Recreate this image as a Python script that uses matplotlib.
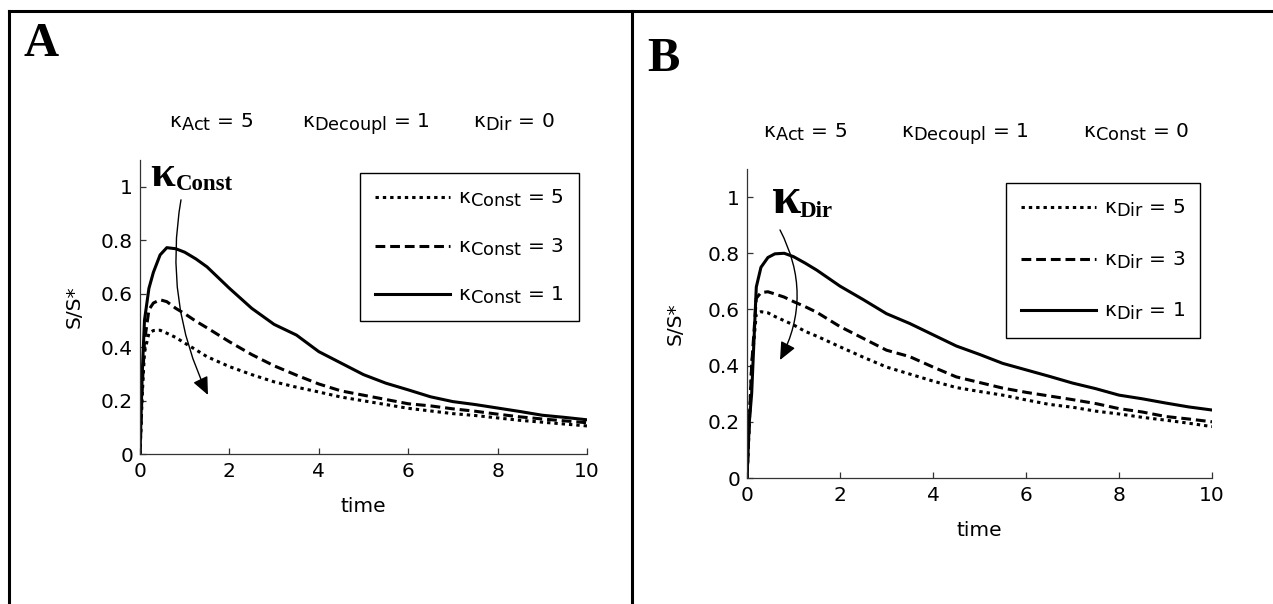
import matplotlib
matplotlib.use("Agg")
import matplotlib.pyplot as plt
import matplotlib._mathtext as mathtext_internals
from matplotlib.lines import Line2D
from matplotlib.patches import FancyArrowPatch

# ---- data ----
time = [0, 0.05, 0.1, 0.2, 0.3, 0.45, 0.6, 0.8, 1.0, 1.25, 1.5, 2.0, 2.5, 3.0, 3.5,
        4.0, 4.5, 5.0, 5.5, 6.0, 6.5, 7.0, 7.5, 8.0, 8.5, 9.0, 9.5, 10.0]

# panel A: varying kappa_Const
a_const5 = [0, 0.22, 0.38, 0.452, 0.462, 0.463, 0.452, 0.436, 0.415, 0.39, 0.364, 0.327, 0.297, 0.27,
            0.25, 0.232, 0.213, 0.199, 0.185, 0.171, 0.161, 0.151, 0.144, 0.135, 0.126, 0.119, 0.112, 0.105]
a_const3 = [0, 0.25, 0.42, 0.54, 0.565, 0.577, 0.57, 0.545, 0.525, 0.497, 0.472, 0.42, 0.372, 0.33,
            0.295, 0.262, 0.236, 0.22, 0.204, 0.188, 0.18, 0.169, 0.16, 0.149, 0.139, 0.131, 0.124, 0.117]
a_const1 = [0, 0.3, 0.5, 0.62, 0.68, 0.745, 0.772, 0.768, 0.755, 0.73, 0.70, 0.62, 0.545, 0.485,
            0.445, 0.383, 0.34, 0.297, 0.265, 0.24, 0.214, 0.196, 0.185, 0.172, 0.159, 0.145, 0.137, 0.128]

# panel B: varying kappa_Dir
b_dir5 = [0, 0.2, 0.4, 0.585, 0.592, 0.588, 0.575, 0.56, 0.545, 0.522, 0.505, 0.467, 0.43, 0.395,
          0.37, 0.345, 0.322, 0.308, 0.295, 0.278, 0.262, 0.252, 0.238, 0.228, 0.216, 0.206, 0.195, 0.183]
b_dir3 = [0, 0.2, 0.4, 0.64, 0.66, 0.663, 0.655, 0.644, 0.628, 0.61, 0.59, 0.539, 0.497, 0.455,
          0.432, 0.395, 0.36, 0.34, 0.32, 0.305, 0.292, 0.279, 0.265, 0.247, 0.235, 0.219, 0.21, 0.2]
b_dir1 = [0, 0.2, 0.3, 0.68, 0.75, 0.785, 0.798, 0.8, 0.788, 0.765, 0.74, 0.683, 0.635, 0.585,
          0.55, 0.51, 0.47, 0.44, 0.408, 0.385, 0.362, 0.338, 0.318, 0.295, 0.282, 0.267, 0.253, 0.242]

kappa_values = [5, 3, 1]
x_ticks = [0, 2, 4, 6, 8, 10]
y_ticks = [0, 0.2, 0.4, 0.6, 0.8, 1]
y_tick_labels = ["0", "0.2", "0.4", "0.6", "0.8", "1"]

# subscripts in the original are nearly full size
mathtext_internals.SHRINK_FACTOR = 0.88

plt.rcParams["font.family"] = ["DejaVu Sans"]
plt.rcParams["mathtext.fontset"] = "dejavusans"

W, H = 1273, 604
fig = plt.figure(figsize=(W / 100, H / 100), dpi=100)

FS = 14.5
styles = [(0, (1.1, 1.3)), (0, (3.2, 1.6)), "-"]


def px(x, y):
    return x / W, 1 - y / H


def make_panel(box, series, name, legend_xy, ylabel_gap, spacing):
    l, t, r, b = box
    ax = fig.add_axes([l / W, 1 - b / H, (r - l) / W, (b - t) / H])
    for ys, ls, k in zip(series, styles, kappa_values):
        ax.plot(time, ys, color="black", lw=2.2, linestyle=ls,
                label="κ$_{\\mathrm{%s}}$ = %d" % (name, k))
    ax.set_xlim(0, 10)
    ax.set_ylim(0, 1.1)
    ax.set_xticks(x_ticks)
    ax.set_xticklabels([str(v) for v in x_ticks])
    ax.set_yticks(y_ticks)
    ax.set_yticklabels(y_tick_labels)
    ax.spines["top"].set_visible(False)
    ax.spines["right"].set_visible(False)
    for s in ("left", "bottom"):
        ax.spines[s].set_color("#333333")
        ax.spines[s].set_linewidth(0.9)
    ax.tick_params(direction="in", length=4, width=0.9, color="#333333", labelsize=FS)
    ax.tick_params(axis="x", pad=6)
    ax.tick_params(axis="y", pad=5)
    ax.set_xlabel("time", fontsize=FS)
    ax.set_ylabel("S/S*", fontsize=FS)
    ax.xaxis.set_label_coords(0.5, -(43 / (b - t)))
    ax.yaxis.set_label_coords(-(ylabel_gap / (r - l)), 0.5)
    ax.legend(loc="upper left", bbox_to_anchor=px(*legend_xy), bbox_transform=fig.transFigure,
              borderaxespad=0, fontsize=FS, frameon=True, fancybox=False, framealpha=1,
              edgecolor="black", handlelength=3.7, handletextpad=0.4, labelspacing=spacing,
              borderpad=0.75)
    ax.get_legend().get_frame().set_linewidth(1.0)
    return ax


ax_a = make_panel((140, 160, 587, 454), [a_const5, a_const3, a_const1], "Const", (360, 173), 56, 1.35)
ax_b = make_panel((747, 169, 1212, 478), [b_dir5, b_dir3, b_dir1], "Dir", (1006, 183), 62, 1.5)

# curved arrows showing the direction of increasing kappa
arr_a = FancyArrowPatch((0.917, 0.951), (1.52, 0.221), connectionstyle="arc3,rad=0.16",
                        arrowstyle="-|>,head_length=0.9,head_width=0.4", mutation_scale=12,
                        color="black", lw=1, shrinkA=0, shrinkB=0)
ax_a.add_patch(arr_a)
arr_b = FancyArrowPatch((0.71, 0.883), (0.71, 0.42), connectionstyle="arc3,rad=-0.26",
                        arrowstyle="-|>,head_length=0.9,head_width=0.4", mutation_scale=12,
                        color="black", lw=1, shrinkA=0, shrinkB=0)
ax_b.add_patch(arr_b)

# bold kappa labels
serif = ["Liberation Serif", "DejaVu Serif"]
fig.text(*px(150, 186), "κ", fontsize=32, fontweight="bold", family=serif, va="baseline")
fig.text(*px(176, 190), "Const", fontsize=16.5, fontweight="bold", family=serif, va="baseline")
fig.text(*px(772, 213), "κ", fontsize=38, fontweight="bold", family=serif, va="baseline")
fig.text(*px(800, 217), "Dir", fontsize=16.5, fontweight="bold", family=serif, va="baseline")

# parameter lines
params_a = [(169, "κ$_{\\mathrm{Act}}$ = 5"), (302, "κ$_{\\mathrm{Decoupl}}$ = 1"), (473, "κ$_{\\mathrm{Dir}}$ = 0")]
params_b = [(763, "κ$_{\\mathrm{Act}}$ = 5"), (901, "κ$_{\\mathrm{Decoupl}}$ = 1"), (1083, "κ$_{\\mathrm{Const}}$ = 0")]
for x, s in params_a:
    fig.text(*px(x, 128), s, fontsize=FS, va="baseline")
for x, s in params_b:
    fig.text(*px(x, 138), s, fontsize=FS, va="baseline")

# panel letters
fig.text(*px(24, 56), "A", fontsize=35, fontweight="bold", family=serif, va="baseline")
fig.text(*px(647, 71), "B", fontsize=35, fontweight="bold", family=serif, va="baseline")

# panel frame lines
for xs, ys in [((9, W), (11, 11)), ((9, 9), (11, H)), ((632, 632), (11, H))]:
    fig.add_artist(Line2D([x / W for x in xs], [1 - y / H for y in ys],
                          color="black", lw=2.2, transform=fig.transFigure))

fig.savefig("out.png", dpi=100)
